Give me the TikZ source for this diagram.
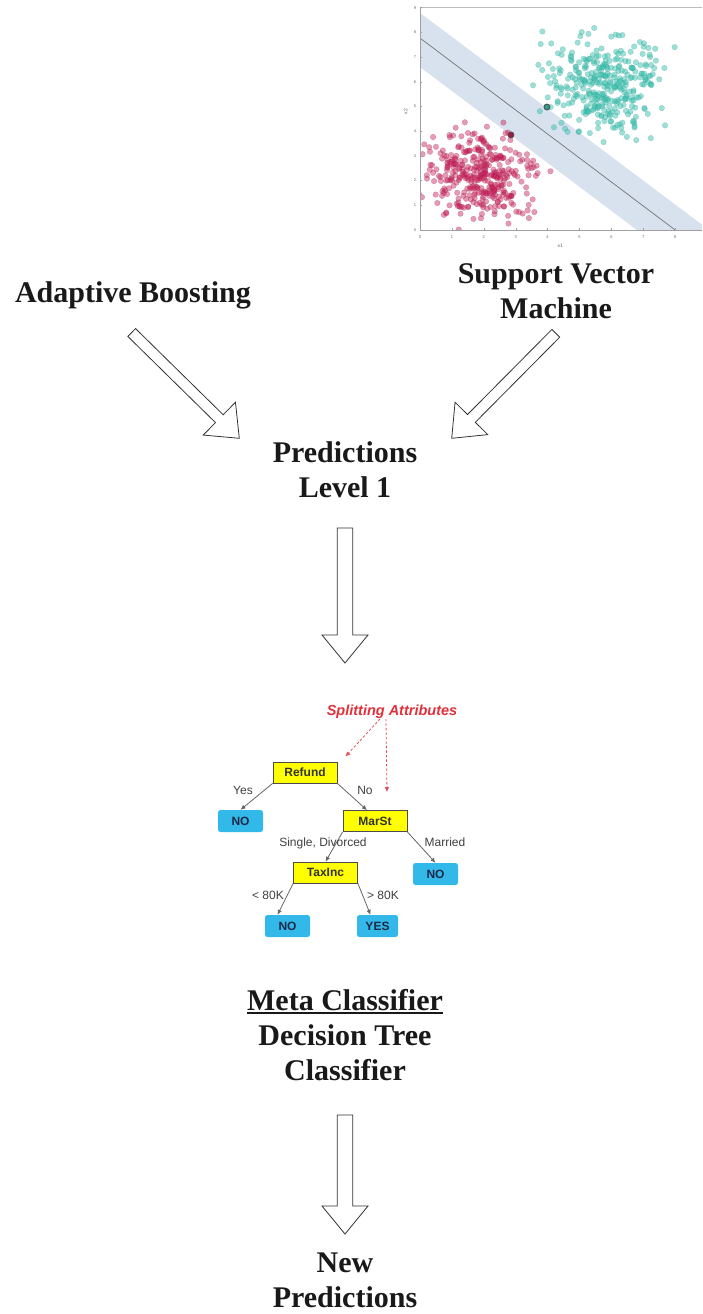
\documentclass[tikz,border=0pt]{standalone}
\usepackage{fontspec}
\setmainfont{Liberation Serif}
\newfontfamily\arialfont{Liberation Sans}
\usetikzlibrary{calc,arrows.meta}

\newcommand{\myul}[1]{\setbox0\hbox{#1}\rlap{\rule[-3.8pt]{\wd0}{1.7pt}}\box0}

\definecolor{svmcyan}{HTML}{3CC3B2}
\definecolor{svmred}{HTML}{C8205A}
\definecolor{bandblue}{HTML}{D8E2EE}
\definecolor{axisgray}{HTML}{A0A0A0}
\definecolor{treeyellow}{HTML}{FFFF00}
\definecolor{treeblue}{HTML}{33B8EA}
\definecolor{splitred}{HTML}{E0303A}
\definecolor{navytext}{HTML}{1C2A48}

\tikzset{
  bigtext/.style={font=\fontsize{30}{35}\selectfont\bfseries, align=center, inner sep=0pt, text=black!90},
  hollowarrow/.style={draw=black!80, line width=0.8pt, fill=white, line join=miter},
  ybox/.style={draw=black!70, fill=treeyellow, line width=0.7pt, minimum width=64pt, minimum height=21pt, inner sep=0pt, font=\arialfont\bfseries\fontsize{12}{14}\selectfont, text=black!80},
  bbox/.style={fill=treeblue, rounded corners=2.5pt, minimum width=45pt, minimum height=22pt, inner sep=0pt, font=\arialfont\bfseries\fontsize{12}{14}\selectfont, text=navytext},
  elabel/.style={font=\arialfont\fontsize{12}{14}\selectfont, text=black!75, inner sep=0pt},
  splitlabel/.style={font=\arialfont\bfseries\itshape\fontsize{14.5}{16}\selectfont, text=splitred, inner sep=0pt},
  tedge/.style={draw=black!60, line width=0.8pt, -{Latex[length=5pt,width=4.5pt]}},
  sedge/.style={draw=splitred!85, line width=0.8pt, dash pattern=on 2.5pt off 2pt, -{Latex[length=5pt,width=4.5pt]}},
  tick/.style={font=\arialfont\fontsize{4}{5}\selectfont, text=black!60, inner sep=0pt},
}

% #1 tail, #2 tip, #3 name, #4 shaft half width
\newcommand{\blockarr}[4]{%
  \coordinate (#3h) at ($(#2)!28pt!(#1)$);
  \draw[hollowarrow] ($(#1)!#4!90:(#2)$) -- ($(#3h)!#4!90:(#2)$) -- ($(#3h)!23pt!90:(#2)$)
     -- (#2) -- ($(#3h)!23pt!-90:(#2)$) -- ($(#3h)!#4!-90:(#2)$) -- ($(#1)!#4!-90:(#2)$) -- cycle;
}

\begin{document}
\begin{tikzpicture}[x=1pt,y=-1pt]
\useasboundingbox (0,0) rectangle (702,1314);
\fill[white] (0,0) rectangle (702,1314);

% ---------------- SVM plot ----------------
\begin{scope}[shift={(420,230)}, x=31.9pt, y=24.7pt]
  \begin{scope}
    \clip (0,0) rectangle (8.84,9.0);
    \fill[bandblue] (0,8.79) -- (9.06,0) -- (6.8,0) -- (0,6.6) -- cycle;
    \draw[black!55, line width=0.7pt] (0,7.77) -- (8,0);
    \pgfmathsetseed{11}
    \foreach \i in {1,...,340}{
      \pgfmathsetmacro{\px}{5.7+0.85*(rand+rand+rand)}
      \pgfmathsetmacro{\py}{5.95+0.95*(rand+rand+rand)}
      \filldraw[fill=svmcyan, fill opacity=0.5, draw=svmcyan!75!black, draw opacity=0.35, line width=0.3pt] (\px,\py) circle[radius=2.8pt];
    }
    \foreach \i in {1,...,370}{
      \pgfmathsetmacro{\px}{1.8+0.85*(rand+rand+rand)}
      \pgfmathsetmacro{\py}{2.25+0.85*(rand+rand+rand)}
      \filldraw[fill=svmred, fill opacity=0.45, draw=svmred!75!black, draw opacity=0.35, line width=0.3pt] (\px,\py) circle[radius=2.8pt];
    }
    \filldraw[fill=svmcyan!80!black, draw=black!70, line width=0.8pt] (3.98,4.98) circle[radius=3pt];
    \filldraw[fill=svmred!80!black, draw=black!70, line width=0.8pt] (2.85,3.85) circle[radius=3pt];
  \end{scope}
  \draw[axisgray, line width=0.6pt] (0,9.0) -- (0,0) -- (8.84,0);
  \draw[axisgray!70, line width=0.5pt] (0,9.0) -- (8.84,9.0);
  \foreach \k in {0,...,9}{
    \draw[axisgray, line width=0.4pt] (0,\k) -- ++(2pt,0);
    \node[tick] at (-0.16,\k) {\k};
  }
  \foreach \k in {0,...,8}{
    \draw[axisgray, line width=0.4pt] (\k,0) -- ++(0,2pt);
    \node[tick] at (\k,-0.28) {\k};
  }
  \node[tick, font=\arialfont\fontsize{5}{6}\selectfont] (xone) at (4.4,-0.62) {x1};
  \node[tick, font=\arialfont\fontsize{5}{6}\selectfont, rotate=90] (xtwo) at (-0.45,4.8) {x2};
\end{scope}

% ---------------- Texts (base = last line's baseline) ----------------
\node[bigtext, anchor=base] (ada) at (133,302) {Adaptive Boosting};
\node[bigtext, anchor=base] (svm) at (556,318) {Support Vector\\Machine};
\node[bigtext, anchor=base] (pred1) at (345,497) {Predictions\\Level 1};
\node[bigtext, anchor=base] (meta) at (345,1080) {\myul{Meta Classifier}\\Decision Tree\\Classifier};
\node[bigtext, anchor=base] (newp) at (345,1307) {New\\Predictions};

% ---------------- Block arrows ----------------
\coordinate (la) at (131.7,332.5);
\coordinate (lb) at (239.3,438.3);
\coordinate (ra) at (555.8,333.3);
\coordinate (rb) at (451.7,438.3);
\coordinate (va) at (345,528);
\coordinate (vb) at (345,663);
\coordinate (wa) at (345,1115);
\coordinate (wb) at (345,1234);
\blockarr{la}{lb}{larr}{5.5pt}
\blockarr{ra}{rb}{rarr}{5.5pt}
\blockarr{va}{vb}{varr}{7.8pt}
\blockarr{wa}{wb}{warr}{7.8pt}

% ---------------- Decision tree ----------------
\node[splitlabel] (split) at (392,712) {Splitting Attributes};
\node[ybox] (refund) at (305,772.5) {Refund};
\node[bbox] (no1) at (240.5,821) {NO};
\node[ybox] (marst) at (375,821) {MarSt};
\node[ybox] (taxinc) at (325.5,872.5) {TaxInc};
\node[bbox] (no2) at (435.5,874) {NO};
\node[bbox] (no3) at (287.5,926) {NO};
\node[bbox, minimum width=41pt] (yes) at (377.5,926) {YES};

\draw[tedge] (refund.south west) -- (no1.north);
\draw[tedge] (refund.south east) -- ([xshift=-8pt]marst.north);
\draw[tedge] (marst.south west) -- (taxinc.north);
\draw[tedge] (marst.south east) -- (no2.north);
\draw[tedge] (taxinc.south west) -- ([xshift=-10pt]no3.north);
\draw[tedge] (taxinc.south east) -- ([xshift=-7pt]yes.north);

\draw[sedge] ([xshift=-12pt]split.south) -- ([shift={(8pt,5pt)}]refund.north east);
\draw[sedge] ([xshift=-6pt]split.south) -- ([shift={(12pt,18pt)}]marst.north);

\node[elabel] (lyes) at (243,790) {Yes};
\node[elabel] (lno) at (365,790) {No};
\node[elabel] (lsd) at (323,843) {Single, Divorced};
\node[elabel] (lmar) at (445,842) {Married};
\node[elabel] (llt) at (268,895) {< 80K};
\node[elabel] (lgt) at (383,895) {> 80K};
\end{tikzpicture}
\end{document}
